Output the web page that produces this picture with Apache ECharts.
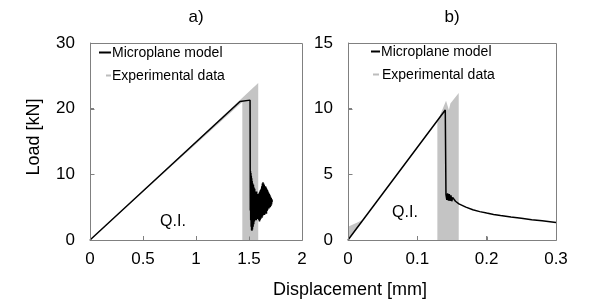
<!DOCTYPE html>
<html><head><meta charset="utf-8">
<script src="https://cdn.jsdelivr.net/npm/echarts@6/dist/echarts.min.js"></script>
<style>html,body{margin:0;padding:0;background:#fff}#c{width:598px;height:301px}</style>
</head><body><div id="c"></div>
<script>
// ---- data ----
const titles = ['a)', 'b)'];
const xTicksA = [0, 0.5, 1, 1.5, 2];
const yTicksA = [0, 10, 20, 30];
const xTicksB = [0, 0.1, 0.2, 0.3];
const yTicksB = [0, 5, 10, 15];
const seriesNames = ['Microplane model', 'Experimental data'];

// a) microplane model: displacement [mm], load [kN]
const modelA = [
  [0,0],[1.415,21.1],[1.51,21.3],[1.512,4.5],
  [1.514,10.5],[1.516,3.0],[1.518,10.2],[1.520,2.0],[1.522,9.8],[1.524,1.5],
  [1.526,9.4],[1.528,1.4],[1.530,9.0],[1.533,1.6],[1.536,8.6],[1.539,2.0],
  [1.542,8.4],[1.545,2.4],[1.548,8.0],[1.551,2.8],[1.554,7.8],[1.557,3.0],
  [1.560,7.4],[1.563,3.2],[1.566,7.2],[1.569,3.0],[1.572,7.4],[1.575,3.2],
  [1.578,7.0],[1.581,3.4],[1.584,6.8],[1.587,3.2],[1.590,7.0],[1.593,3.0],
  [1.596,7.2],[1.599,2.8],[1.602,7.4],[1.605,3.0],[1.608,7.6],[1.611,3.2],
  [1.614,7.8],[1.617,3.4],[1.620,8.2],[1.623,3.4],[1.626,8.6],[1.629,3.6],
  [1.632,8.8],[1.635,3.8],[1.638,8.6],[1.641,4.0],[1.644,8.4],[1.647,3.8],
  [1.650,8.0],[1.653,4.0],[1.656,8.2],[1.659,4.2],[1.662,8.0],[1.665,4.0],
  [1.668,7.8],[1.671,4.4],[1.674,7.6],[1.677,4.6],[1.680,7.4],[1.683,4.8],
  [1.686,7.2],[1.689,4.8],[1.692,7.0],[1.695,5.0],[1.698,6.8],[1.701,5.0],
  [1.704,6.6],[1.707,5.2],[1.710,6.4],[1.713,5.4],[1.716,6.2],[1.72,5.8]
];
// a) experimental envelope polygon
const expA = [[0,0],[1.437,21.0],[1.437,0],[1.587,0],[1.587,23.9]];

// b) microplane model
const modelB = [
  [0,0],[0.1403,9.9],[0.1413,3.45],[0.1425,3.05],[0.1437,3.55],[0.1449,3.0],
  [0.1461,3.5],[0.1473,2.98],[0.1485,3.4],[0.1497,2.95],[0.1509,3.25],
  [0.155,2.95],[0.16,2.75],[0.17,2.5],[0.18,2.3],[0.19,2.16],[0.2,2.05],
  [0.21,1.95],[0.22,1.86],[0.235,1.75],[0.25,1.65],[0.265,1.55],[0.28,1.46],[0.3,1.34]
];
// b) experimental envelope polygons
const expB1 = [[0,0],[0,1.0],[0.022,1.55]];
const expB2 = [[0.1289,0],[0.1289,9.0],[0.1414,10.6],[0.1455,9.9],[0.1477,10.4],[0.1597,11.2],[0.1597,0]];

const FONT = 'Liberation Sans, Arial, sans-serif';
const frameColor = '#808080';
const grayFill = '#c4c4c4';

const gridBoxes = [
  { left: 90, top: 43, width: 212, height: 197 },
  { left: 348, top: 43, width: 208, height: 197 }
];

function polySeries(name, xi, yi, polys) {
  const data = [];
  polys.forEach((p, k) => p.forEach(v => data.push([v[0], v[1], k])));
  return {
    type: 'custom', name, xAxisIndex: xi, yAxisIndex: yi, z: 1, silent: true,
    clip: true, encode: { x: 0, y: 1 },
    renderItem: function (params, api) {
      const idx = params.dataIndex;
      const k = data[idx][2];
      if (idx > 0 && data[idx - 1][2] === k) return null;
      const pts = polys[k].map(v => api.coord(v));
      return { type: 'polygon', shape: { points: pts }, style: { fill: grayFill } };
    },
    data
  };
}

const labelStyle = { color: '#000', fontSize: 17, fontFamily: FONT };

function mainAxis(ticks, gi, extra) {
  return Object.assign({
    type: 'value', gridIndex: gi,
    min: ticks[0], max: ticks[ticks.length - 1], interval: ticks[1] - ticks[0],
    axisLine: { show: true, onZero: false, lineStyle: { color: frameColor, width: 1 } },
    axisTick: { show: true, inside: true, length: 4, lineStyle: { color: frameColor, width: 1 } },
    splitLine: { show: false }
  }, extra);
}

// frame: plain graphic lines along the grid box edges (same element type as the legend samples)
const frameEls = [];
[[gridBoxes[0], xTicksA, yTicksA], [gridBoxes[1], xTicksB, yTicksB]].forEach(([g, xt, yt]) => {
  const L = g.left + 0.5, T = g.top + 0.5, R = g.left + g.width + 0.5, B = g.top + g.height + 0.5;
  const seg = (x1, y1, x2, y2) => frameEls.push({ type: 'line', z: 100, silent: true,
    shape: { x1, y1, x2, y2 }, style: { stroke: frameColor, lineWidth: 1 } });
  seg(L, T, R, T); seg(R, T, R, B); seg(L, B, R, B); seg(L, T, L, B);
  const xs = xt[xt.length - 1] - xt[0], ys = yt[yt.length - 1] - yt[0];
  xt.slice(1, -1).forEach(v => {
    const x = Math.round(g.left + (v - xt[0]) / xs * g.width) + 0.5;
    seg(x, B, x, B - 4);
  });
  yt.slice(1, -1).forEach(v => {
    const y = Math.round(g.top + g.height - (v - yt[0]) / ys * g.height) + 0.5;
    seg(L, y, L + 4, y);
  });
});

const texts = [
  { type: 'text', x: 196, y: 17, style: { text: titles[0], font: '17px ' + FONT, fill: '#000', align: 'center', verticalAlign: 'middle' } },
  { type: 'text', x: 452, y: 17, style: { text: titles[1], font: '17px ' + FONT, fill: '#000', align: 'center', verticalAlign: 'middle' } },
  // legend a)
  { type: 'line', shape: { x1: 99, y1: 52.5, x2: 111, y2: 52.5 }, style: { stroke: '#000', lineWidth: 2 } },
  { type: 'text', x: 112, y: 53, style: { text: seriesNames[0], font: '14px ' + FONT, fill: '#000', verticalAlign: 'middle' } },
  { type: 'line', shape: { x1: 106, y1: 75.5, x2: 111, y2: 75.5 }, style: { stroke: '#bdbdbd', lineWidth: 2 } },
  { type: 'text', x: 112, y: 76, style: { text: seriesNames[1], font: '14px ' + FONT, fill: '#000', verticalAlign: 'middle' } },
  // legend b)
  { type: 'line', shape: { x1: 371, y1: 51.5, x2: 380, y2: 51.5 }, style: { stroke: '#000', lineWidth: 2 } },
  { type: 'text', x: 381, y: 52, style: { text: seriesNames[0], font: '14px ' + FONT, fill: '#000', verticalAlign: 'middle' } },
  { type: 'line', shape: { x1: 373, y1: 74.5, x2: 379, y2: 74.5 }, style: { stroke: '#bdbdbd', lineWidth: 2 } },
  { type: 'text', x: 382, y: 75, style: { text: seriesNames[1], font: '14px ' + FONT, fill: '#000', verticalAlign: 'middle' } },
  // Q.I. annotations
  { type: 'text', x: 173, y: 222, style: { text: 'Q.I.', font: '16px ' + FONT, fill: '#000', align: 'center', verticalAlign: 'middle' } },
  { type: 'text', x: 405, y: 213, style: { text: 'Q.I.', font: '16px ' + FONT, fill: '#000', align: 'center', verticalAlign: 'middle' } },
  // axis titles
  { type: 'text', x: 34, y: 137, rotation: Math.PI / 2, style: { text: 'Load [kN]', font: '18px ' + FONT, fill: '#000', align: 'center', verticalAlign: 'middle' } },
  { type: 'text', x: 350, y: 290, style: { text: 'Displacement [mm]', font: '18px ' + FONT, fill: '#000', align: 'center', verticalAlign: 'middle' } }
];

const option = {
  animation: false,
  backgroundColor: '#fff',
  grid: gridBoxes,
  xAxis: [
    mainAxis(xTicksA, 0, { position: 'bottom', axisLabel: Object.assign({ margin: 11, formatter: v => String(v) }, labelStyle) }),
    mainAxis(xTicksB, 1, { position: 'bottom', axisLabel: Object.assign({ margin: 11, formatter: v => String(+v.toFixed(2)) }, labelStyle) })
  ],
  yAxis: [
    mainAxis(yTicksA, 0, { position: 'left', axisLabel: Object.assign({ margin: 15 }, labelStyle) }),
    mainAxis(yTicksB, 1, { position: 'left', axisLabel: Object.assign({ margin: 15 }, labelStyle) })
  ],
  series: [
    polySeries(seriesNames[1], 0, 0, [expA]),
    polySeries(seriesNames[1], 1, 1, [expB1, expB2]),
    { type: 'line', name: seriesNames[0], xAxisIndex: 0, yAxisIndex: 0, z: 3, data: modelA,
      showSymbol: false, symbol: 'none', lineStyle: { color: '#000', width: 1.5 } },
    { type: 'line', name: seriesNames[0], xAxisIndex: 1, yAxisIndex: 1, z: 3, data: modelB,
      showSymbol: false, symbol: 'none', lineStyle: { color: '#000', width: 1.5 } }
  ],
  graphic: texts.concat(frameEls)
};

const chart = echarts.init(document.getElementById('c'), null, { renderer: 'canvas' });
chart.setOption(option);
</script>
</body></html>
